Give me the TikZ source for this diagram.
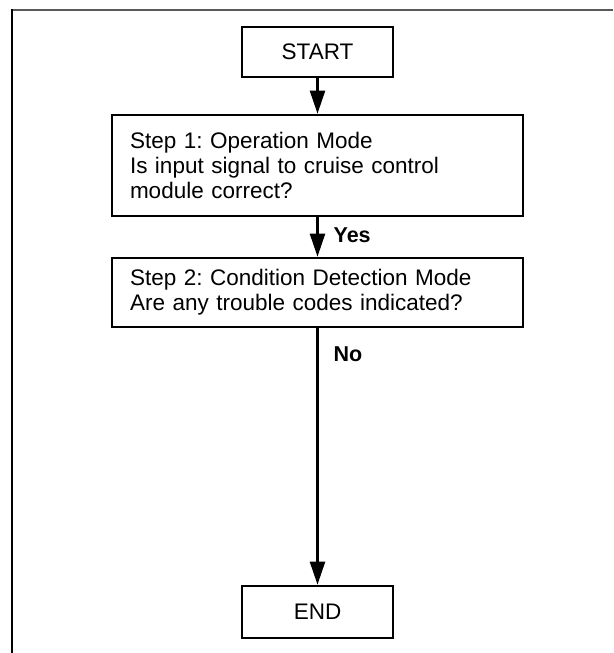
\documentclass[tikz,border=0pt]{standalone}
\usepackage{fontspec}
\setmainfont{Liberation Sans}
\usetikzlibrary{arrows.meta}
\frenchspacing
\begin{document}
\begin{tikzpicture}[x=1pt,y=-1pt,
  every node/.style={font=\fontsize{22.5}{25}\selectfont},
  termbox/.style={draw=black,line width=2.6pt,minimum width=151pt,minimum height=50pt,inner sep=0pt},
  stepbox/.style={draw=black,line width=2.6pt,minimum width=411pt,text width=375pt,inner xsep=18pt,inner ysep=0pt,align=left},
  lbl/.style={font=\fontsize{21.5}{21}\selectfont\bfseries,anchor=west,inner sep=0pt},
  arr/.style={line width=2.2pt,-{Triangle[width=15pt,length=23pt]}},
  frameline/.style={line width=2.4pt}]
\useasboundingbox (0,0) rectangle (613,653);
\fill[white] (0,0) rectangle (613,653);
\draw[frameline,black!65] (11,10) -- (613,10);
\draw[frameline] (12,9) -- (12,653);
\node[termbox] (start) at (317.5,52) {START};
\node[stepbox,minimum height=101pt] (s1) at (317.5,165.5) {Step 1: Operation Mode\\Is input signal to cruise control\\module correct?};
\node[stepbox,minimum height=69pt] (s2) at (317.5,292.5) {Step 2: Condition Detection Mode\\Are any trouble codes indicated?};
\node[termbox,minimum height=52pt] (end) at (317.5,612) {END};
\draw[arr] (start) -- (s1);
\draw[arr] (s1) -- node[lbl,pos=0.45,xshift=15pt] {Yes} (s2);
\draw[arr] (s2) -- node[lbl,pos=0.1,xshift=15pt] {No} (end);
\end{tikzpicture}
\end{document}
